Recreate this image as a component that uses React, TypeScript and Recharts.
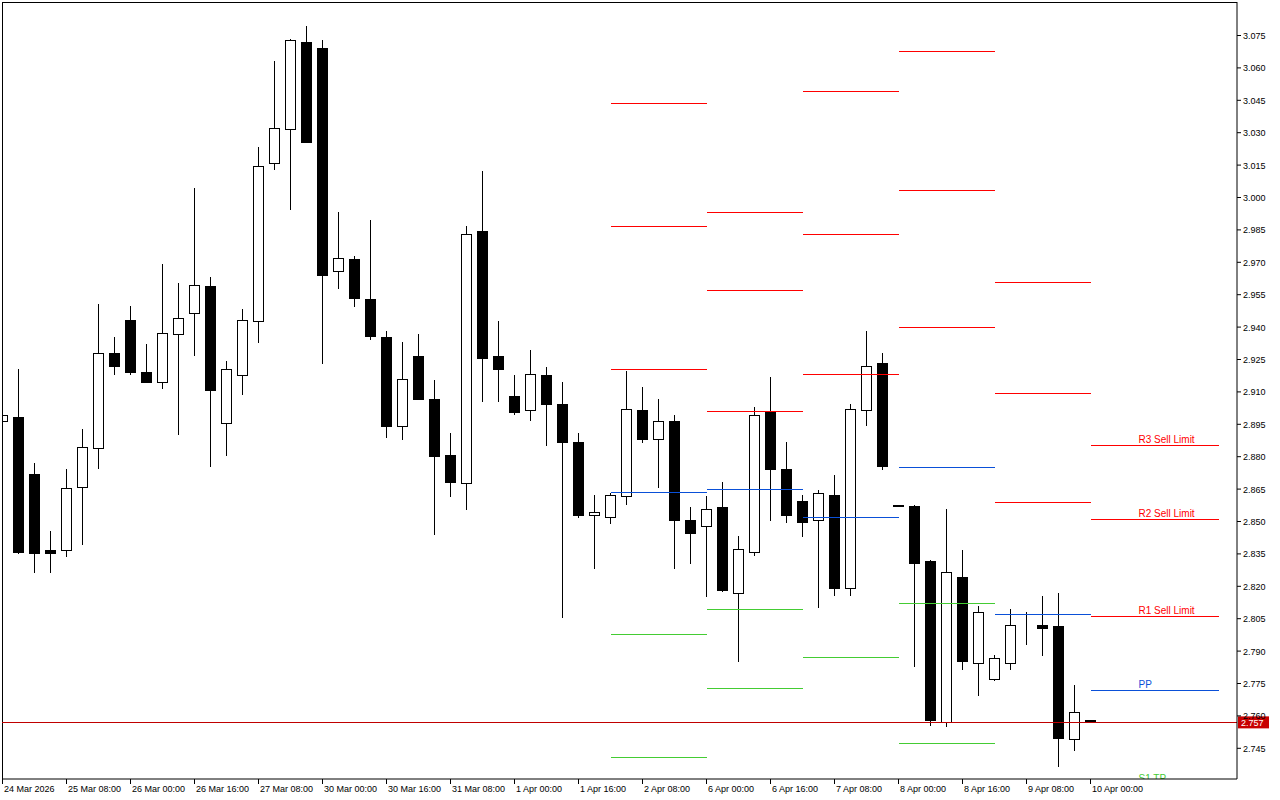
import React from 'react';
import { ComposedChart, Bar, XAxis, YAxis, ReferenceLine } from 'recharts';

// 4H candles, 24 Mar 16:00 .. 10 Apr 00:00
const opens = [
  2.8963, 2.8986, 2.8722, 2.8366, 2.837, 2.8662, 2.8838, 2.9282, 2.9435, 2.9194,
  2.9148, 2.9366, 2.9463, 2.9588, 2.8954, 2.9176, 2.9426, 3.0162, 3.0315, 3.0722,
  3.0694, 2.9662, 2.9713, 2.9532, 2.9352, 2.894, 2.9264, 2.9065, 2.8806, 2.8676,
  2.9843, 2.9264, 2.9083, 2.9014, 2.9176, 2.9046, 2.8866, 2.8532, 2.8523, 2.8616,
  2.9014, 2.8884, 2.8963, 2.8505, 2.8477, 2.8565, 2.8167, 2.8357, 2.9005, 2.8745,
  2.8593, 2.8505, 2.8625, 2.819, 2.9014, 2.9236, 2.8575, 2.8574, 2.8315, 2.7574,
  2.8245, 2.7843, 2.7769, 2.7843, 2.8023, 2.8023, 2.8014, 2.7495, 2.7583,
];
const highs = [
  2.9009, 2.9204, 2.8773, 2.8454, 2.8745, 2.8926, 2.9509, 2.9356, 2.95, 2.9324,
  2.9694, 2.9602, 3.0046, 2.9634, 2.9245, 2.9486, 3.0232, 3.0634, 3.0733, 3.0792,
  3.0731, 2.9935, 2.9731, 2.9894, 2.9384, 2.9333, 2.9366, 2.9153, 2.8912, 2.9866,
  3.0125, 2.9426, 2.9176, 2.9296, 2.9213, 2.9144, 2.8912, 2.8625, 2.8634, 2.9199,
  2.9125, 2.9065, 2.8995, 2.8565, 2.8616, 2.8685, 2.8435, 2.9032, 2.9167, 2.8866,
  2.8625, 2.8644, 2.8713, 2.9046, 2.9384, 2.9282, 2.8575, 2.8576, 2.8324, 2.8556,
  2.8366, 2.8107, 2.7884, 2.8097, 2.8083, 2.8153, 2.8167, 2.7745, 2.7583,
];
const lows = [
  2.8949, 2.8352, 2.8268, 2.8268, 2.8338, 2.8398, 2.875, 2.9181, 2.9181, 2.9144,
  2.912, 2.8907, 2.9269, 2.8759, 2.881, 2.9088, 2.9329, 3.013, 2.9949, 3.0257,
  2.9232, 2.9579, 2.95, 2.9347, 2.8889, 2.888, 2.9065, 2.844, 2.862, 2.856,
  2.906, 2.906, 2.9, 2.8968, 2.8852, 2.806, 2.8519, 2.8287, 2.8491, 2.8579,
  2.887, 2.8662, 2.8287, 2.831, 2.8153, 2.8176, 2.7852, 2.8347, 2.8509, 2.85,
  2.8431, 2.8102, 2.8162, 2.8162, 2.8949, 2.8741, 2.8574, 2.7829, 2.756, 2.7551,
  2.7819, 2.7699, 2.7768, 2.7819, 2.7931, 2.788, 2.737, 2.744, 2.757,
];
const closes = [
  2.8995, 2.8361, 2.8352, 2.8352, 2.8653, 2.8843, 2.9282, 2.9218, 2.9194, 2.9148,
  2.9375, 2.9444, 2.9593, 2.9111, 2.9204, 2.9435, 3.0144, 3.0324, 3.0731, 3.0259,
  2.9639, 2.9722, 2.9537, 2.9361, 2.894, 2.9162, 2.9069, 2.8801, 2.8681, 2.9833,
  2.9259, 2.9208, 2.9009, 2.9185, 2.9042, 2.887, 2.8528, 2.8546, 2.8625, 2.9023,
  2.888, 2.8963, 2.8509, 2.8449, 2.8556, 2.8181, 2.8375, 2.8995, 2.8741, 2.8528,
  2.85, 2.8634, 2.819, 2.9023, 2.9222, 2.8759, 2.8574, 2.831, 2.7579, 2.8264,
  2.7852, 2.8083, 2.7866, 2.8023, 2.8023, 2.8009, 2.75, 2.7616, 2.757,
];

const timeTicks = [0, 4, 8, 12, 16, 20, 24, 28, 32, 36, 40, 44, 48, 52, 56, 60, 64, 68];
const timeLabels = [
  '24 Mar 2026', '25 Mar 08:00', '26 Mar 00:00', '26 Mar 16:00', '27 Mar 08:00', '30 Mar 00:00',
  '30 Mar 16:00', '31 Mar 08:00', '1 Apr 00:00', '1 Apr 16:00', '2 Apr 08:00', '6 Apr 00:00',
  '6 Apr 16:00', '7 Apr 08:00', '8 Apr 00:00', '8 Apr 16:00', '9 Apr 08:00', '10 Apr 00:00',
];
const priceTicks = [
  2.745, 2.76, 2.775, 2.79, 2.805, 2.82, 2.835, 2.85, 2.865, 2.88, 2.895, 2.91,
  2.925, 2.94, 2.955, 2.97, 2.985, 3.0, 3.015, 3.03, 3.045, 3.06, 3.075,
];

// daily pivots (bar index where the day starts / ends)
const pivotStart = [38, 44, 50, 56, 62, 68];
const pivotEnd = [44, 50, 56, 62, 68, 76];
const r3 = [3.0434, 2.9929, 3.0489, 3.0675, 2.9605, 2.885];
const r2 = [2.9864, 2.9569, 2.9827, 3.0031, 2.9093, 2.8508];
const r1 = [2.9202, 2.9008, 2.9179, 2.9398, 2.8587, 2.8059];
const pp = [2.8633, 2.8647, 2.8517, 2.8749, 2.8068, 2.7716];
const s1 = [2.7975, 2.8091, 2.7869, 2.8119, 2.7568, 2.7278];
const s2 = [2.7406, 2.7725, null, 2.7471, null, null];

const RED = '#ff0000';
const BLUE = '#0a50d8';
const GREEN = '#44cc33';
const FONT = '"Liberation Sans", Arial, sans-serif';

const CHART_W = 1280;
const CHART_H = 800;
const X_AXIS_H = 21;
const PLOT_BOTTOM = CHART_H - X_AXIS_H;

const X_MIN = -0.03125;
const X_MAX = 77.15625;
const Y_MAX = 3.0905093;
const Y_MIN = 2.7307871;

const candles = opens.map((o, i) => ({ i, o, h: highs[i], l: lows[i], c: closes[i] }));
const lastPrice = closes[closes.length - 1];

const Candle = (props: any) => {
  const { x, y, width, height, payload } = props;
  if (x == null || y == null || !payload) return null;
  const top = Math.min(y, y + height);
  const bot = Math.max(y, y + height);
  const { o, h, l, c } = payload;
  const span = h - l || 1e-9;
  const py = (p: number) => top + ((h - p) / span) * (bot - top);
  const cx = Math.floor(x + width / 2 + 0.01);
  const yo = Math.round(py(o));
  const yc = Math.round(py(c));
  const bTop = Math.min(yo, yc);
  const bBot = Math.max(yo, yc);
  const up = c >= o;
  return (
    <g shapeRendering="crispEdges">
      <line x1={cx + 0.5} x2={cx + 0.5} y1={Math.round(top)} y2={Math.round(bot) + 1} stroke="#000" strokeWidth={1} />
      <rect x={cx - 4.5} y={bTop + 0.5} width={10} height={bBot - bTop} fill={up ? '#fff' : '#000'} stroke="#000" strokeWidth={1} />
    </g>
  );
};

const XTick = (props: any) => {
  const { x, y, payload } = props;
  const idx = timeTicks.indexOf(payload.value);
  return (
    <text x={x + 1.5} y={y + 6} fontSize={9} fontFamily={FONT} fill="#000" textAnchor="start">
      {timeLabels[idx]}
    </text>
  );
};

const YTick = (props: any) => {
  const { x, y, payload } = props;
  return (
    <text x={x} y={y + 3.5} fontSize={9} fontFamily={FONT} fill="#000" textAnchor="start">
      {Number(payload.value).toFixed(3)}
    </text>
  );
};

// labels of the current day, cut at the bottom of the plot like the terminal does
const pivotLabel = (text: string, color: string, key: string) => (p: any) => {
  const vb = p.viewBox || {};
  const clipId = 'pivot-label-clip-' + key;
  return (
    <g>
      <defs>
        <clipPath id={clipId}>
          <rect x={0} y={0} width={CHART_W} height={PLOT_BOTTOM} />
        </clipPath>
      </defs>
      <text x={vb.x + 48} y={vb.y - 3} fontSize={10} fontFamily={FONT} fill={color} clipPath={`url(#${clipId})`}>
        {text}
      </text>
    </g>
  );
};

const priceLabel = (p: any) => {
  const vb = p.viewBox || {};
  const rx = vb.x + vb.width + 1;
  return (
    <g>
      <rect x={rx} y={vb.y - 6} width={31} height={12} fill="#c80000" />
      <text x={rx + 3} y={vb.y + 3.5} fontSize={9} fontFamily={FONT} fill="#fff">
        {lastPrice.toFixed(3)}
      </text>
    </g>
  );
};

const levelSets = [
  { name: 'R3', vals: r3, color: RED, text: 'R3 Sell Limit' },
  { name: 'R2', vals: r2, color: RED, text: 'R2 Sell Limit' },
  { name: 'R1', vals: r1, color: RED, text: 'R1 Sell Limit' },
  { name: 'PP', vals: pp, color: BLUE, text: 'PP' },
  { name: 'S1', vals: s1, color: GREEN, text: 'S1 TP' },
  { name: 'S2', vals: s2, color: GREEN, text: '' },
];

const App: React.FC = () => {
  const lastDay = pivotStart.length - 1;
  return (
    <div style={{ position: 'absolute', left: 0, top: 0, width: CHART_W, height: CHART_H, background: '#fff' }}>
      <ComposedChart width={CHART_W} height={CHART_H} data={candles} margin={{ top: 2, right: 0, bottom: 0, left: 2 }}>
        <XAxis
          type="number"
          dataKey="i"
          domain={[X_MIN, X_MAX]}
          allowDataOverflow
          ticks={timeTicks}
          interval={0}
          tickSize={5}
          height={X_AXIS_H}
          stroke="#000"
          tick={<XTick />}
        />
        <YAxis
          orientation="right"
          type="number"
          domain={[Y_MIN, Y_MAX]}
          allowDataOverflow
          ticks={priceTicks}
          interval={0}
          tickSize={4}
          tickMargin={2}
          width={43}
          stroke="#000"
          tick={<YTick />}
        />
        <ReferenceLine y={Y_MAX} stroke="#000" shapeRendering="crispEdges" />
        <ReferenceLine x={X_MIN} stroke="#000" shapeRendering="crispEdges" />
        {levelSets.map((set) =>
          set.vals.map((v, d) =>
            v == null ? null : (
              <ReferenceLine
                key={set.name + d}
                segment={[
                  { x: pivotStart[d], y: v },
                  { x: pivotEnd[d], y: v },
                ]}
                stroke={set.color}
                strokeWidth={1}
                shapeRendering="crispEdges"
                ifOverflow="hidden"
                label={d === lastDay && set.text ? pivotLabel(set.text, set.color, set.name) : undefined}
              />
            ),
          ),
        )}
        <Bar
          dataKey={(d: any) => [d.l, d.h]}
          barSize={11}
          shape={(p: any) => <Candle {...p} />}
          isAnimationActive={false}
        />
        <ReferenceLine y={lastPrice} stroke="#c00000" shapeRendering="crispEdges" label={priceLabel} />
      </ComposedChart>
    </div>
  );
};

export default App;
